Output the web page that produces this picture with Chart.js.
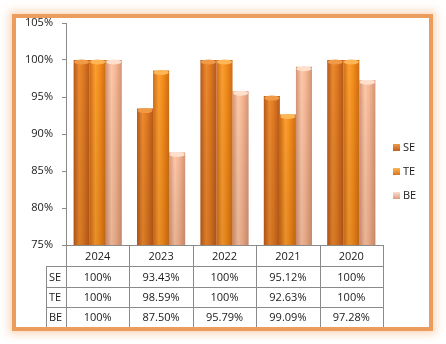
<!DOCTYPE html>
<html>
<head>
<meta charset="utf-8">
<script src="https://cdn.jsdelivr.net/npm/chart.js@4"></script>
<style>
  html, body { margin: 0; padding: 0; background: #fff; }
  #wrap { position: relative; width: 446px; height: 344px; }
  #card {
    position: absolute; left: 12px; top: 14px; width: 413px; height: 309px;
    border: 4px solid #eb9d5e; background: #fff;
    box-shadow: 0 0 8px 3px rgba(247, 177, 120, .5);
  }
  canvas { position: absolute; left: 0; top: 0; }
</style>
</head>
<body>
<div id="wrap">
  <div id="card"></div>
  <canvas id="chart" width="446" height="344"></canvas>
</div>
<script>
// data
const years = ['2024', '2023', '2022', '2021', '2020'];
const seriesNames = ['SE', 'TE', 'BE'];
const seValues = [100, 93.43, 100, 95.12, 100];
const teValues = [100, 98.59, 100, 92.63, 100];
const beValues = [100, 87.50, 95.79, 99.09, 97.28];
const yTicks = [75, 80, 85, 90, 95, 100, 105];

// cylinder shades: edge, middle, light, cap
const shades = [
  ['#b8581a', '#e07b22', '#ec8a2e', '#f09a48'],
  ['#cf6c14', '#f58f1c', '#fd9f30', '#ffb656'],
  ['#d49576', '#f8b894', '#fdc9aa', '#fee0cc']
];

const FONT = '"Open Sans", "DejaVu Sans", sans-serif';
const fmt = v => v === 100 ? '100%' : v.toFixed(2) + '%';

const cylinders = {
  id: 'cylinders',
  beforeDatasetsDraw(chart) {
    const ctx = chart.ctx;
    chart.data.datasets.forEach((ds, i) => {
      const s = shades[i];
      chart.getDatasetMeta(i).data.forEach(el => {
        const g = ctx.createLinearGradient(el.x - el.width / 2, 0, el.x + el.width / 2, 0);
        g.addColorStop(0, s[0]);
        g.addColorStop(0.35, s[2]);
        g.addColorStop(0.6, s[1]);
        g.addColorStop(1, s[0]);
        el.options = Object.assign({}, el.options, { backgroundColor: g });
      });
    });
  },
  afterDatasetsDraw(chart) {
    const ctx = chart.ctx;
    const bottom = chart.chartArea.bottom;
    chart.data.datasets.forEach((ds, i) => {
      const s = shades[i];
      chart.getDatasetMeta(i).data.forEach(el => {
        ctx.save();
        // slight darkening towards the base
        const v = ctx.createLinearGradient(0, el.y, 0, bottom);
        v.addColorStop(0, 'rgba(0,0,0,0)');
        v.addColorStop(1, 'rgba(80,30,0,0.12)');
        ctx.fillStyle = v;
        ctx.fillRect(el.x - el.width / 2, el.y, el.width, bottom - el.y);
        // top cap
        ctx.beginPath();
        ctx.ellipse(el.x, el.y + 2, el.width / 2 - 0.5, 2.5, 0, 0, Math.PI * 2);
        ctx.fillStyle = s[3];
        ctx.fill();
        ctx.restore();
      });
    });
  }
};

const dataTable = {
  id: 'dataTable',
  afterDraw(chart) {
    const ctx = chart.ctx;
    const a = chart.chartArea;
    const x = chart.scales.x;
    const rows = [a.bottom, a.bottom + 21, a.bottom + 42, a.bottom + 62, a.bottom + 82];
    const labelLeft = 46;
    const half = (x.getPixelForValue(1) - x.getPixelForValue(0)) / 2;
    ctx.save();
    ctx.strokeStyle = '#8a8a8a';
    ctx.lineWidth = 1;
    ctx.beginPath();
    // horizontal lines
    ctx.moveTo(a.left, rows[0] + 0.5); ctx.lineTo(a.right, rows[0] + 0.5);
    for (let r = 1; r < 4; r++) {
      ctx.moveTo(labelLeft, rows[r] + 0.5); ctx.lineTo(a.right, rows[r] + 0.5);
    }
    // vertical lines
    ctx.moveTo(labelLeft + 0.5, rows[1]); ctx.lineTo(labelLeft + 0.5, rows[4]);
    for (let c = 0; c <= years.length; c++) {
      const px = Math.round(x.getPixelForValue(c) - half) + 0.5;
      ctx.moveTo(px, rows[0]); ctx.lineTo(px, rows[4]);
    }
    ctx.stroke();

    ctx.fillStyle = '#1a1a1a';
    ctx.font = '11px ' + FONT;
    ctx.textBaseline = 'middle';
    ctx.textAlign = 'center';
    years.forEach((yr, c) => {
      ctx.fillText(yr, x.getPixelForValue(c), (rows[0] + rows[1]) / 2 + 1);
    });
    chart.data.datasets.forEach((ds, r) => {
      const cy = (rows[r + 1] + rows[r + 2]) / 2 + 1;
      ctx.textAlign = 'left';
      ctx.fillText(ds.label, labelLeft + 3, cy);
      ctx.textAlign = 'center';
      ds.data.forEach((v, c) => ctx.fillText(fmt(v), x.getPixelForValue(c), cy));
    });

    // legend
    const legendY = [148, 172, 196];
    chart.data.datasets.forEach((ds, i) => {
      const s = shades[i];
      const g = ctx.createLinearGradient(0, legendY[i] - 4, 0, legendY[i] + 4);
      g.addColorStop(0, s[3]);
      g.addColorStop(1, s[0]);
      ctx.fillStyle = g;
      ctx.fillRect(393, legendY[i] - 4, 7, 7);
      ctx.fillStyle = '#1a1a1a';
      ctx.textAlign = 'left';
      ctx.fillText(ds.label, 403, legendY[i]);
    });
    ctx.restore();
  }
};

new Chart(document.getElementById('chart'), {
  type: 'bar',
  data: {
    labels: years,
    datasets: [
      { label: seriesNames[0], data: seValues, backgroundColor: shades[0][1] },
      { label: seriesNames[1], data: teValues, backgroundColor: shades[1][1] },
      { label: seriesNames[2], data: beValues, backgroundColor: shades[2][1] }
    ]
  },
  options: {
    responsive: false,
    animation: false,
    events: [],
    layout: { padding: { left: 0, top: 23, right: 63, bottom: 99 } },
    categoryPercentage: 0.76,
    barPercentage: 1,
    plugins: { legend: { display: false }, tooltip: { enabled: false } },
    scales: {
      x: { display: false },
      y: {
        min: yTicks[0],
        max: yTicks[yTicks.length - 1],
        afterFit: s => { s.width = 66; },
        afterBuildTicks: s => { s.ticks = yTicks.map(v => ({ value: v })); },
        border: { display: true, color: '#8a8a8a' },
        grid: { drawOnChartArea: false, tickLength: 4, color: '#8a8a8a' },
        ticks: {
          padding: 9,
          color: '#1a1a1a',
          font: { family: FONT, size: 11 },
          callback: v => v + '%'
        }
      }
    }
  },
  plugins: [cylinders, dataTable]
});
</script>
</body>
</html>
